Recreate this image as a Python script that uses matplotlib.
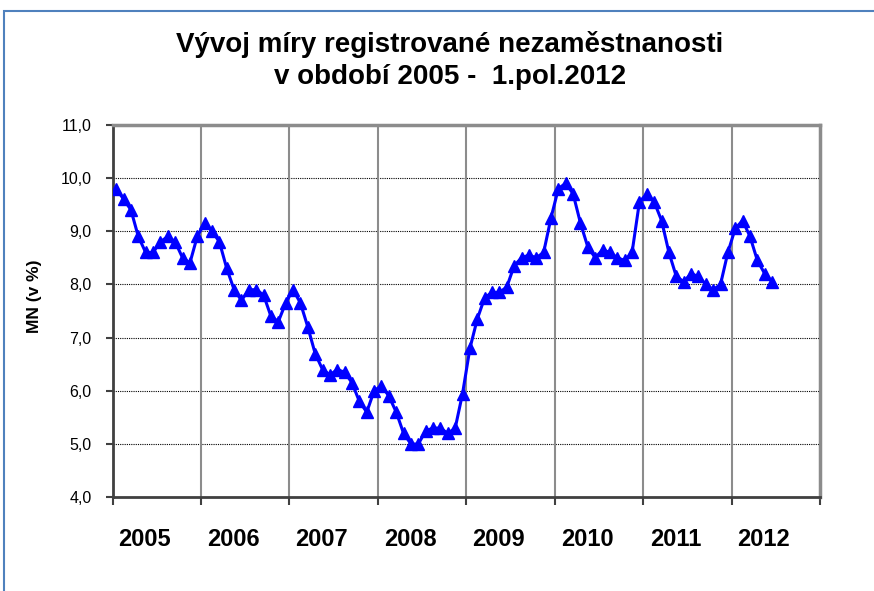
import matplotlib
matplotlib.use('Agg')
import matplotlib.pyplot as plt
from matplotlib.patches import Rectangle
from matplotlib.ticker import FixedLocator, FuncFormatter

plt.rcParams['font.family'] = ['Liberation Sans', 'DejaVu Sans']

# Data: monthly registered unemployment rate, Jan 2005 - Jun 2012
years = ['2005', '2006', '2007', '2008', '2009', '2010', '2011', '2012']
rate = [
    9.8, 9.6, 9.4, 8.9, 8.6, 8.6, 8.8, 8.9, 8.8, 8.5, 8.4, 8.9,           # 2005
    9.15, 9.0, 8.8, 8.3, 7.9, 7.7, 7.9, 7.9, 7.8, 7.4, 7.3, 7.65,        # 2006
    7.9, 7.65, 7.2, 6.7, 6.4, 6.3, 6.4, 6.35, 6.15, 5.8, 5.6, 6.0,       # 2007
    6.1, 5.9, 5.6, 5.2, 5.0, 5.0, 5.25, 5.3, 5.3, 5.2, 5.3, 5.95,        # 2008
    6.8, 7.35, 7.75, 7.85, 7.85, 7.95, 8.35, 8.5, 8.55, 8.5, 8.6, 9.25,  # 2009
    9.8, 9.9, 9.7, 9.15, 8.7, 8.5, 8.65, 8.6, 8.5, 8.45, 8.6, 9.55,      # 2010
    9.7, 9.55, 9.2, 8.6, 8.15, 8.05, 8.2, 8.15, 8.0, 7.9, 8.0, 8.6,      # 2011
    9.05, 9.2, 8.9, 8.45, 8.2, 8.05,                                     # 2012
]
y_ticks = [4, 5, 6, 7, 8, 9, 10, 11]

W, H = 874, 591
fig = plt.figure(figsize=(W / 100, H / 100), dpi=100)
ax = fig.add_axes([112.5 / W, 1 - 497.3 / H, (820 - 112.5) / W, (497.3 - 124.7) / H])

x = [i + 0.5 for i in range(len(rate))]
ax.plot(x, rate, color='#0000FF', lw=2.2, marker='^', markersize=8, zorder=3)

n_years = len(years)
ax.set_xlim(0, 12 * n_years)
ax.set_ylim(4, 11)

# gridlines
for v in y_ticks[1:-1]:
    ax.axhline(v, color='black', lw=0.8, ls=(0, (1, 1)), zorder=1)
for k in range(1, n_years):
    ax.axvline(12 * k, color='#8c8c8c', lw=1.5, zorder=1)

ax.yaxis.set_major_locator(FixedLocator(y_ticks))
ax.yaxis.set_major_formatter(FuncFormatter(lambda v, p: f'{v:.1f}'.replace('.', ',')))
ax.tick_params(axis='y', labelsize=11.5, length=5, width=1.5, color='#404040', pad=10)

# year labels sit a bit left of the middle of each year, as in the original
ax.set_xticks([12 * k for k in range(n_years + 1)])
ax.set_xticklabels([])
ax.set_xticks([12 * k + 4.4 for k in range(n_years)], minor=True)
ax.set_xticklabels(years, minor=True, fontsize=17, fontweight='bold')
ax.tick_params(axis='x', which='major', length=6, width=1.5, color='#404040')
ax.tick_params(axis='x', which='minor', length=0, pad=22)

for s in ['left', 'bottom']:
    ax.spines[s].set_color('#404040')
    ax.spines[s].set_linewidth(2)
for s in ['top', 'right']:
    ax.spines[s].set_color('#8c8c8c')
    ax.spines[s].set_linewidth(2.5)

ax.set_ylabel('MN (v %)', fontsize=12.5, fontweight='bold')
ax.yaxis.set_label_coords(-0.1, 0.54)

fig.text(450 / W, 1 - 61 / H, 'Vývoj míry registrované nezaměstnanosti\nv období 2005 -  1.pol.2012',
         ha='center', va='center', fontsize=20, fontweight='bold', linespacing=1.3)

# outer chart border (blue, runs off the right and bottom edge)
fig.patches.append(Rectangle((4 / W, -0.1), 2, 1 - 11 / H + 0.1, transform=fig.transFigure,
                             fill=False, edgecolor='#4F81BD', lw=1.5))

fig.savefig('out.png', dpi=100)
